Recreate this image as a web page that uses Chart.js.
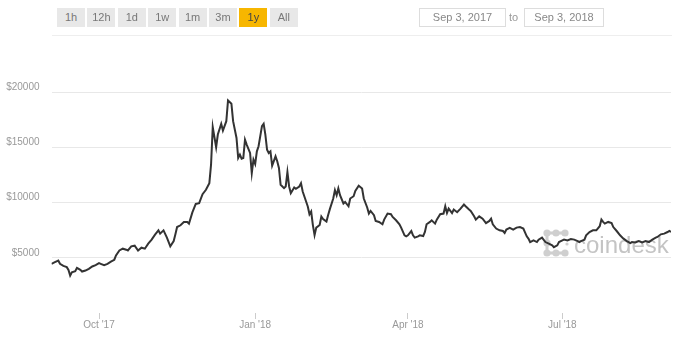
<!DOCTYPE html>
<html>
<head>
<meta charset="utf-8">
<script src="https://cdn.jsdelivr.net/npm/chart.js@4/dist/chart.umd.min.js"></script>
<style>
  body { margin: 0; background: #fff; font-family: "Liberation Sans", Arial, sans-serif; }
  #wrap { position: relative; width: 680px; height: 340px; overflow: hidden; }
  #wrap canvas { position: absolute; left: 0; top: 0; }
  .btn { position: absolute; top: 8px; width: 28px; height: 19px; line-height: 19px; text-align: center;
         font-size: 11px; color: #777; background: #e8e8e8; }
  .btn.on { background: #f7b600; color: #444; }
  .date { position: absolute; top: 8px; height: 17px; line-height: 17px; border: 1px solid #ddd;
          text-align: center; font-size: 11px; color: #888; }
  #to { position: absolute; top: 8px; left: 509px; line-height: 19px; font-size: 11px; color: #999; }
  #rule { position: absolute; top: 35px; left: 52px; width: 620px; height: 1px; background: #eee; }
</style>
</head>
<body>
<div id="wrap">
  <canvas id="chart" width="680" height="340"></canvas>
  <div id="buttons"></div>
  <div class="date" style="left:419px;width:85px">Sep 3, 2017</div>
  <div id="to">to</div>
  <div class="date" style="left:524px;width:78px">Sep 3, 2018</div>
  <div id="rule"></div>
</div>
<script>
// range buttons
const rangeButtons = ['1h', '12h', '1d', '1w', '1m', '3m', '1y', 'All'];
const activeRange = '1y';

// days since Sep 3, 2017 and BTC price in USD
const days = [
  0, 2, 4, 5, 7, 9, 10, 11, 12, 14, 15, 17, 18, 20, 22, 24, 26, 28, 29, 31,
  33, 35, 37, 38, 40, 42, 44, 45, 47, 49, 51, 53, 55, 57, 59, 61, 63, 64, 66, 68,
  70, 72, 73, 74, 76, 78, 80, 81, 83, 85, 87, 89, 91, 93, 94, 95, 97, 98, 100, 101,
  103, 104, 106, 107, 109, 110, 111, 112, 113, 114, 115, 117, 118, 119, 120, 121, 122, 124, 125, 126,
  127, 128, 129, 130, 132, 133, 134, 135, 137, 138, 139, 140, 141, 143, 144, 146, 147, 148, 150, 151,
  152, 153, 154, 155, 156, 158, 159, 160, 162, 163, 164, 166, 167, 168, 169, 170, 172, 173, 175, 176,
  178, 179, 181, 183, 184, 186, 187, 188, 190, 191, 193, 195, 196, 198, 200, 201, 203, 205, 206, 208,
  209, 210, 212, 213, 214, 216, 217, 219, 220, 221, 223, 224, 226, 227, 229, 231, 232, 233, 234, 236,
  237, 239, 241, 243, 244, 246, 247, 249, 250, 252, 254, 256, 258, 259, 260, 262, 264, 266, 267, 268,
  270, 272, 274, 276, 278, 280, 281, 282, 284, 286, 287, 289, 291, 293, 295, 296, 298, 299, 301, 302,
  304, 306, 308, 310, 311, 312, 314, 315, 317, 319, 321, 323, 324, 325, 326, 328, 330, 331, 333, 335,
  337, 339, 341, 342, 344, 346, 348, 350, 352, 354, 356, 357, 359, 361, 363, 364, 365
];
const prices = [
  4450, 4600, 4750, 4450, 4270, 4150, 3900, 3390, 3690, 3780, 4090, 3900, 3750, 3840, 4000, 4210, 4330, 4510, 4450, 4330,
  4450, 4640, 4820, 5210, 5660, 5820, 5730, 5660, 6030, 6090, 5660, 5910, 5820, 6270, 6640, 7090, 7480, 7180, 7480, 6820,
  6030, 6510, 7120, 7780, 7940, 8240, 8240, 8090, 9100, 9870, 9940, 10750, 11150, 11750, 13420, 16820, 15000, 16150, 17120, 16510,
  17360, 19240, 18940, 17360, 15840, 14030, 14330, 13960, 14030, 15690, 15240, 14480, 12660, 13880, 13480, 14630, 15090, 16910, 17120, 16150,
  14780, 14480, 14630, 13330, 14180, 13730, 13120, 11600, 11300, 11450, 12750, 11450, 10840, 11360, 11240, 11450, 11750, 11000, 10090, 9640,
  8930, 9180, 7960, 7050, 7730, 7960, 8730, 8510, 8270, 8870, 9400, 10360, 11120, 10660, 11270, 10660, 9910, 10050, 9660, 10360,
  10570, 11050, 11510, 11270, 10360, 9550, 9000, 9240, 8850, 8330, 8240, 8030, 8450, 9000, 8940, 8690, 8390, 8030, 7730, 7030,
  6940, 7030, 7420, 7030, 6820, 6940, 7030, 6960, 7330, 8030, 8240, 8390, 8090, 8450, 8940, 9000, 9660, 9050, 9450, 9050,
  9360, 9120, 9450, 9820, 9660, 9360, 9240, 8750, 8450, 8750, 8540, 8140, 8330, 8540, 8030, 7640, 7480, 7420, 7240, 7550,
  7700, 7550, 7730, 7780, 7640, 6940, 6730, 6420, 6570, 6420, 6640, 6820, 6420, 6270, 6120, 5960, 6120, 6420, 6570, 6640,
  6570, 6690, 6640, 6510, 6420, 6510, 6640, 7030, 7330, 7480, 7480, 7850, 8450, 8240, 8090, 8240, 8140, 7780, 7420, 7030,
  6730, 6510, 6330, 6420, 6390, 6510, 6390, 6510, 6420, 6640, 6820, 6880, 7120, 7180, 7330, 7420, 7330
];

// x axis ticks (days since Sep 3, 2017)
const tickDays = [28, 120, 210, 301];
const tickLabels = ["Oct '17", "Jan '18", "Apr '18", "Jul '18"];

const btnBox = document.getElementById('buttons');
rangeButtons.forEach((b, i) => {
  const el = document.createElement('div');
  el.className = 'btn' + (b === activeRange ? ' on' : '');
  el.style.left = (57 + i * 30.4) + 'px';
  el.textContent = b;
  btnBox.appendChild(el);
});

// coindesk watermark behind the line
const watermark = {
  id: 'watermark',
  beforeDatasetsDraw(chart) {
    const ctx = chart.ctx;
    ctx.save();
    ctx.fillStyle = '#cfcfcf';
    ctx.strokeStyle = '#cfcfcf';
    ctx.lineWidth = 3;
    const dots = [[547, 233], [556, 233], [565, 233], [547, 243], [547, 253], [556, 253], [565, 253]];
    ctx.beginPath();
    ctx.moveTo(565, 233); ctx.lineTo(547, 233); ctx.lineTo(547, 253); ctx.lineTo(565, 253);
    ctx.stroke();
    dots.forEach(([x, y]) => { ctx.beginPath(); ctx.arc(x, y, 3.6, 0, Math.PI * 2); ctx.fill(); });
    ctx.beginPath(); ctx.arc(567, 244, 1.6, 0, Math.PI * 2); ctx.fill();
    ctx.fillStyle = '#c4c4c4';
    ctx.font = '24px "Liberation Sans", Arial, sans-serif';
    ctx.textBaseline = 'alphabetic';
    ctx.fillText('coindesk', 574, 253);
    ctx.restore();
  }
};

new Chart(document.getElementById('chart'), {
  type: 'line',
  data: {
    datasets: [{
      label: 'Price',
      data: days.map((d, i) => ({ x: d, y: prices[i] })),
      borderColor: '#333333',
      borderWidth: 2,
      fill: false,
      tension: 0,
      pointRadius: 0
    }]
  },
  options: {
    responsive: false,
    animation: false,
    layout: { padding: { top: 92, right: 9, bottom: 9, left: 5.5 } },
    plugins: { legend: { display: false }, tooltip: { enabled: false } },
    scales: {
      x: {
        type: 'linear',
        min: 0,
        max: 365,
        afterBuildTicks: (axis) => { axis.ticks = tickDays.map(v => ({ value: v })); },
        ticks: {
          autoSkip: false,
          maxRotation: 0,
          padding: 0,
          color: '#999',
          font: { family: '"Liberation Sans", Arial, sans-serif', size: 10 },
          callback: (v) => tickLabels[tickDays.indexOf(v)]
        },
        grid: { drawOnChartArea: false, drawTicks: true, tickLength: 6, color: '#ccc' },
        border: { display: false }
      },
      y: {
        min: 0,
        max: 20000,
        afterFit: (axis) => { axis.width = 46; },
        ticks: {
          stepSize: 5000,
          padding: 12,
          labelOffset: -5,
          color: '#999',
          font: { family: '"Liberation Sans", Arial, sans-serif', size: 10 },
          callback: (v) => v === 0 ? '' : '$' + v
        },
        grid: {
          drawTicks: false,
          color: (c) => c.tick && c.tick.value === 0 ? 'rgba(0,0,0,0)' : '#e8e8e8'
        },
        border: { display: false }
      }
    }
  },
  plugins: [watermark]
});
</script>
</body>
</html>
